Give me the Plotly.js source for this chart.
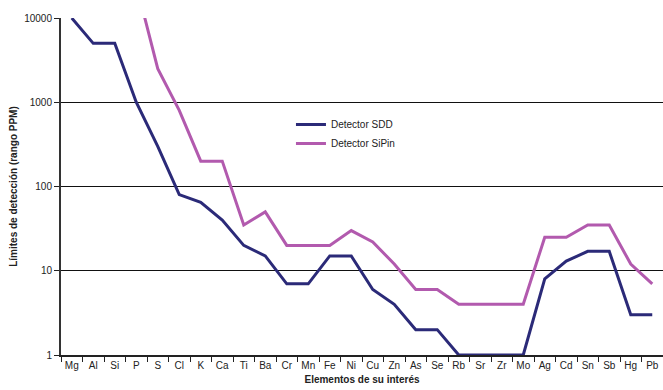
<!DOCTYPE html>
<html>
<head>
<meta charset="utf-8">
<script src="https://cdn.plot.ly/plotly-3.0.1.min.js"></script>
<style>html,body{margin:0;padding:0;background:#fff;}#chart{width:663px;height:390px;}</style>
</head>
<body>
<div id="chart"></div>
<script>
var elements = ["Mg","Al","Si","P","S","Cl","K","Ca","Ti","Ba","Cr","Mn","Fe","Ni","Cu","Zn","As","Se","Rb","Sr","Zr","Mo","Ag","Cd","Sn","Sb","Hg","Pb"];
var sddValues = [10000,5000,5000,1000,300,80,65,40,20,15,7,7,15,15,6,4,2,2,1,1,1,1,8,13,17,17,3,3];
var sipinValues = [null,null,null,25000,2500,800,200,200,35,50,20,20,20,30,22,12,6,6,4,4,4,4,25,25,35,35,12,7];
var yTickVals = [1,10,100,1000,10000];
var yTickText = ["1","10","100","1000","10000"];

var traces = [
  {x: elements, y: sddValues, name: "Detector SDD", type: "scatter", mode: "lines",
   line: {color: "#2B2A78", width: 3}, cliponaxis: true},
  {x: elements, y: sipinValues, name: "Detector SiPin", type: "scatter", mode: "lines",
   line: {color: "#B25AAE", width: 3}, connectgaps: false, cliponaxis: true}
];

var layout = {
  width: 663, height: 390,
  margin: {l: 61, r: 0, t: 18, b: 35},
  paper_bgcolor: "#fff", plot_bgcolor: "#fff",
  font: {family: "Liberation Sans, Arial, sans-serif", size: 10, color: "#222"},
  showlegend: true,
  legend: {x: 0.382, y: 0.727, xanchor: "left", yanchor: "top", bgcolor: "rgba(0,0,0,0)",
           font: {size: 10, color: "#222"}, tracegroupgap: 0, itemwidth: 30},
  xaxis: {
    type: "category", range: [-0.5, 27.5], tickson: "boundaries", tickangle: 0,
    ticks: "outside", ticklen: 5, tickcolor: "#222", tickwidth: 1,
    showline: true, linecolor: "#222", linewidth: 2, showgrid: false, zeroline: false,
    tickfont: {size: 10, color: "#222"},
    title: {text: "<b>Elementos de su interés</b>", font: {size: 10, color: "#222"}, standoff: 6}
  },
  yaxis: {
    type: "log", range: [0, 4], tickvals: yTickVals, ticktext: yTickText,
    ticks: "outside", ticklen: 5, tickcolor: "#222", tickwidth: 1,
    showline: true, linecolor: "#333", linewidth: 2,
    showgrid: true, gridcolor: "#111", gridwidth: 1, zeroline: false,
    tickfont: {size: 10, color: "#222"},
    title: {text: "<b>Límites de detección (rango PPM)</b>", font: {size: 10, color: "#222"}, standoff: 5}
  }
};

Plotly.newPlot("chart", traces, layout, {displayModeBar: false, staticPlot: true});
</script>
</body>
</html>
